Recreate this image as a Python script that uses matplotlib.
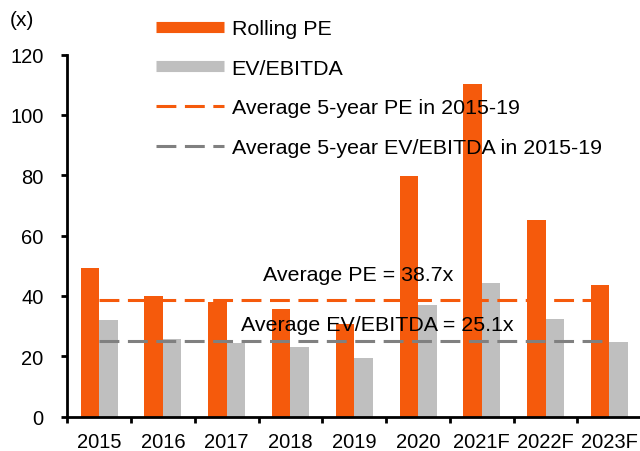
import numpy as np
import matplotlib
matplotlib.use("Agg")
import matplotlib.pyplot as plt
from matplotlib.lines import Line2D

plt.rcParams['font.family'] = ['Liberation Sans', 'DejaVu Sans']

years = ['2015', '2016', '2017', '2018', '2019', '2020', '2021F', '2022F', '2023F']
rolling_pe = [49.3, 39.8, 38.0, 35.5, 30.8, 79.7, 110.1, 65.2, 43.6]
ev_ebitda = [31.9, 25.7, 24.4, 23.1, 19.5, 37.0, 44.3, 32.4, 24.6]
avg_pe = 38.7
avg_ev = 25.1

orange = '#F55A0C'
grey = '#BFBFBF'
dgrey = '#808080'
dash = (6.5, 2.8)

fig = plt.figure(figsize=(6.4, 4.52), dpi=100)
ax = fig.add_axes([0.105, 0.0763, 0.897, 0.8007])

x = np.arange(len(years))
w = 0.29
ax.bar(x - w/2, rolling_pe, w, color=orange, zorder=2)
ax.bar(x + w/2, ev_ebitda, w, color=grey, zorder=2)

ax.plot([x[0], x[-1]], [avg_pe, avg_pe], color=orange, lw=2.2, dashes=dash, zorder=3)
ax.plot([x[0], x[-1]], [avg_ev, avg_ev], color=dgrey, lw=2.2, dashes=dash, zorder=3)

ax.text(4.06, 47, 'Average PE = %.1fx' % avg_pe, ha='center', va='center', fontsize=15.4, zorder=4)
ax.text(4.36, 30.4, 'Average EV/EBITDA = %.1fx' % avg_ev, ha='center', va='center', fontsize=15.4, zorder=4)

ax.set_xlim(-0.5, 8.5)
ax.set_ylim(0, 120)
ax.set_yticks(np.arange(0, 121, 20))
ax.set_xticks(x)
ax.set_xticklabels(years)
ax.set_xticks(np.arange(-0.5, 8.6, 1), minor=True)
ax.tick_params(axis='x', which='major', length=0, labelsize=14.5, pad=11)
ax.tick_params(axis='x', which='minor', length=4, width=2, direction='out')
ax.tick_params(axis='y', length=4, width=2, labelsize=14.5, pad=13)
for s in ['top', 'right']:
    ax.spines[s].set_visible(False)
for s in ['left', 'bottom']:
    ax.spines[s].set_linewidth(2)

fig.text(10/640, 1 - 21/452, '(x)', fontsize=15, ha='left', va='center')

handles = [
    Line2D([], [], color=orange, lw=8, solid_capstyle='butt'),
    Line2D([], [], color=grey, lw=8, solid_capstyle='butt'),
    Line2D([], [], color=orange, lw=2.2, dashes=dash),
    Line2D([], [], color=dgrey, lw=2.2, dashes=dash),
]
labels = ['Rolling PE', 'EV/EBITDA', 'Average 5-year PE in 2015-19',
          'Average 5-year EV/EBITDA in 2015-19']
fig.legend(handles, labels, loc='upper left', bbox_to_anchor=(156/640, 1 - 20/452),
           frameon=False, fontsize=15.4, handlelength=3.2, handletextpad=0.33,
           labelspacing=0.97, borderpad=0, borderaxespad=0)

fig.savefig('out.png', dpi=100)
